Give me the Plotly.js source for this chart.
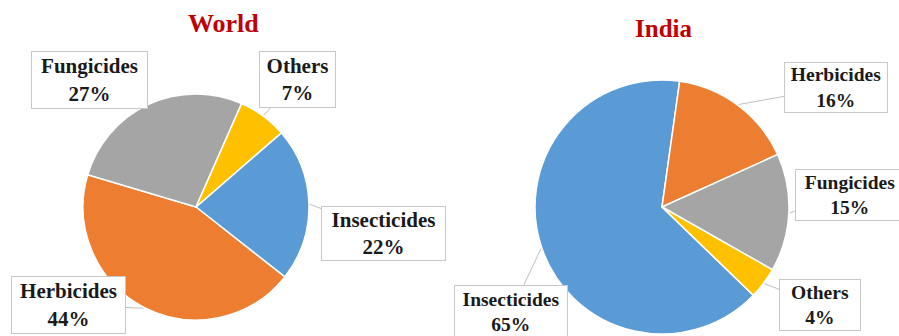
<!DOCTYPE html>
<html>
<head>
<meta charset="utf-8">
<script src="https://cdn.plot.ly/plotly-3.0.1.min.js"></script>
<style>html,body{margin:0;padding:0;background:#fff;}#chart{width:899px;height:336px;}#tick{position:fixed;left:0;top:0;font-size:1px;color:#fff;}</style>
</head>
<body>
<div id="chart"></div>
<div id="tick"></div>
<script>
// ---- data ----
const categories = ['Insecticides', 'Herbicides', 'Fungicides', 'Others'];
const worldValues = [22, 44, 27, 7];
const indiaValues = [65, 16, 15, 4];
const sliceColors = ['#5B9BD5', '#ED7D31', '#A5A5A5', '#FFC000'];
const panelTitles = ['World', 'India'];

// ---- layout ----
const W = 899, H = 336;
const SERIF = 'Liberation Serif';
const panels = [
  {values: worldValues, cx: 196, cy: 207, r: 113, rotation: 49, titleX: 223, titleY: 24, titleSize: 26, labelSize: 21,
   boxes: [{x: 383, y: 233, w: 123, h: 53}, {x: 68, y: 305, w: 113, h: 56}, {x: 89, y: 80, w: 115, h: 56}, {x: 297, y: 80, w: 75, h: 55}]},
  {values: indiaValues, cx: 662, cy: 207, r: 127, rotation: 134, titleX: 663, titleY: 28, titleSize: 25, labelSize: 19.5,
   boxes: [{x: 511, y: 312, w: 112, h: 52}, {x: 836, y: 87, w: 102, h: 49}, {x: 850, y: 195, w: 108, h: 50}, {x: 820, y: 305, w: 80, h: 50}]}
];

const traces = [];
const annotations = [];
panels.forEach((p, k) => {
  traces.push({
    type: 'pie', labels: categories, values: p.values, sort: false, direction: 'clockwise', rotation: p.rotation,
    textinfo: 'none', showlegend: false,
    marker: {colors: sliceColors, line: {color: '#ffffff', width: 1.5}},
    domain: {x: [(p.cx - p.r) / W, (p.cx + p.r) / W], y: [(H - p.cy - p.r) / H, (H - p.cy + p.r) / H]}
  });
  annotations.push({
    xref: 'paper', yref: 'paper', x: p.titleX / W, y: 1 - p.titleY / H, xanchor: 'center', yanchor: 'middle', showarrow: false,
    text: '<b>' + panelTitles[k] + '</b>', font: {family: SERIF, size: p.titleSize, color: '#C00000'}
  });
  const total = p.values.reduce((a, b) => a + b, 0);
  let cum = 0;
  p.values.forEach((v, i) => {
    const mid = (p.rotation + 360 * (cum + v / 2) / total) * Math.PI / 180;
    cum += v;
    const px = p.cx + (p.r + 1) * Math.sin(mid);
    const py = p.cy - (p.r + 1) * Math.cos(mid);
    const b = p.boxes[i];
    const pct = Math.round(100 * v / total);
    annotations.push({
      xref: 'paper', yref: 'paper', x: px / W, y: 1 - py / H, ax: b.x - px, ay: b.y - py,
      showarrow: true, arrowhead: 0, arrowwidth: 1, arrowcolor: '#BFBFBF', standoff: 0, startstandoff: 0,
      text: '<b>' + categories[i] + '</b><br><b>' + pct + '%</b>', width: b.w, height: b.h, align: 'center', valign: 'middle',
      bgcolor: '#ffffff', bordercolor: '#C8C8C8', borderwidth: 1, borderpad: 0,
      font: {family: SERIF, size: p.labelSize, color: '#1a1a1a'}
    });
  });
});

Plotly.newPlot('chart', traces, {
  width: W, height: H, margin: {l: 0, r: 0, t: 0, b: 0},
  annotations: annotations
}, {staticPlot: true}).then(() => {
  // force the label text to use the serif face and trigger a repaint
  document.querySelectorAll('.annotation-text').forEach(t => {
    t.style.fontFamily = '"Liberation Serif", serif';
  });
  document.getElementById('tick').textContent = '.';
});
</script>
</body>
</html>
